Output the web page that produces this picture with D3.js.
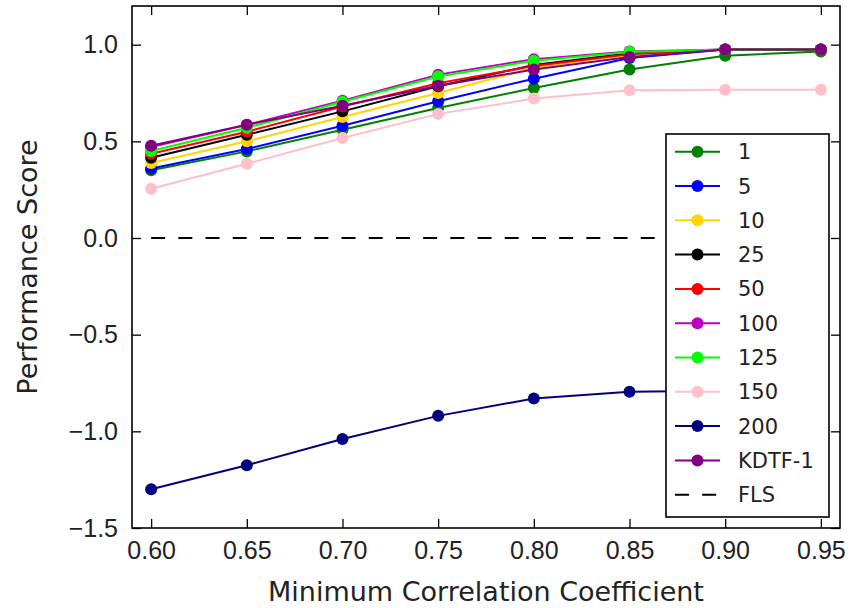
<!DOCTYPE html>
<html>
<head>
<meta charset="utf-8">
<script src="https://cdn.jsdelivr.net/npm/d3@7"></script>
<style>
  body { margin: 0; background: #fff; }
  svg { font-family: "DejaVu Sans", sans-serif; }
</style>
</head>
<body>
<div id="chart"></div>
<script>
// chart values
const xValues = [0.60, 0.65, 0.70, 0.75, 0.80, 0.85, 0.90, 0.95];
const seriesNames = ['1', '5', '10', '25', '50', '100', '125', '150', '200', 'KDTF-1'];
const seriesColors = ['#008000', '#0000ff', '#ffd700', '#000000', '#ff0000',
                      '#bf00bf', '#00ff00', '#ffc0cb', '#000080', '#800080'];
const s1     = [0.350, 0.448, 0.560, 0.672, 0.776, 0.871, 0.943, 0.965];
const s5     = [0.360, 0.460, 0.581, 0.707, 0.824, 0.931, 0.975, 0.975];
const s10    = [0.388, 0.500, 0.626, 0.750, 0.880, 0.950, 0.975, 0.975];
const s25    = [0.415, 0.534, 0.655, 0.785, 0.895, 0.955, 0.975, 0.975];
const s50    = [0.436, 0.550, 0.680, 0.800, 0.890, 0.950, 0.975, 0.975];
const s100   = [0.470, 0.585, 0.710, 0.845, 0.925, 0.965, 0.975, 0.975];
const s125   = [0.450, 0.570, 0.705, 0.835, 0.917, 0.962, 0.975, 0.975];
const s150   = [0.255, 0.384, 0.517, 0.642, 0.721, 0.764, 0.767, 0.767];
const s200   = [-1.300, -1.175, -1.040, -0.920, -0.830, -0.795, -0.790, -0.790];
const sKDTF  = [0.477, 0.586, 0.684, 0.788, 0.871, 0.936, 0.975, 0.975];
const flsValue = 0.0;
const xTicks = [0.60, 0.65, 0.70, 0.75, 0.80, 0.85, 0.90, 0.95];
const yTicks = [-1.5, -1.0, -0.5, 0.0, 0.5, 1.0];

const allSeries = [s1, s5, s10, s25, s50, s100, s125, s150, s200, sKDTF];

const [width, height] = [853, 608];
const margin = { top: 6, right: 13, bottom: 80, left: 132 };
const iw = width - margin.left - margin.right;
const ih = height - margin.top - margin.bottom;

const svg = d3.select('#chart')
    .append('svg')
    .attr('width', width)
    .attr('height', height);

const g = svg.append('g')
    .attr('transform', `translate(${margin.left},${margin.top})`);

const x = d3.scaleLinear().domain([0.59, 0.96]).range([0, iw]);
const y = d3.scaleLinear().domain([-1.5, 1.2]).range([ih, 0]);

// axes: ticks point inwards on all four sides
const tickLen = 9;
const styleAxis = (sel, size) => {
    sel.select('.domain').remove();
    sel.selectAll('line').attr('stroke', '#000').attr('stroke-width', 1.3);
    sel.selectAll('text').style('font-size', size).attr('fill', '#222');
};

g.append('g')
    .attr('transform', `translate(0,${ih})`)
    .call(d3.axisBottom(x).tickValues(xTicks).tickSize(-tickLen)
        .tickPadding(13.5).tickFormat(d3.format('.2f')))
    .call(styleAxis, '25px');

g.append('g')
    .call(d3.axisLeft(y).tickValues(yTicks).tickSize(-tickLen)
        .tickPadding(14).tickFormat(d3.format('.1f')))
    .call(styleAxis, '25px');

g.append('g')
    .call(d3.axisTop(x).tickValues(xTicks).tickSize(-tickLen).tickFormat(''))
    .call(styleAxis, '25px');

g.append('g')
    .attr('transform', `translate(${iw},0)`)
    .call(d3.axisRight(y).tickValues(yTicks).tickSize(-tickLen).tickFormat(''))
    .call(styleAxis, '25px');

// FLS baseline
g.append('line')
    .attr('x1', x(xValues[0]))
    .attr('x2', x(xValues[xValues.length - 1]))
    .attr('y1', y(flsValue))
    .attr('y2', y(flsValue))
    .attr('stroke', '#000')
    .attr('stroke-width', 2)
    .attr('stroke-dasharray', '14,13.2');

// series lines + markers
const line = d3.line()
    .x((d, i) => x(xValues[i]))
    .y((d) => y(d));

allSeries.forEach((vals, k) => {
    const c = seriesColors[k];
    g.append('path')
        .datum(vals)
        .attr('d', line)
        .attr('fill', 'none')
        .attr('stroke', c)
        .attr('stroke-width', 2);
    g.append('g')
        .selectAll('circle')
        .data(vals)
        .join('circle')
        .attr('cx', (d, i) => x(xValues[i]))
        .attr('cy', (d) => y(d))
        .attr('r', 6)
        .attr('fill', c);
});

// frame
g.append('rect')
    .attr('width', iw)
    .attr('height', ih)
    .attr('fill', 'none')
    .attr('stroke', '#000')
    .attr('stroke-width', 1.6);

// legend
const legend = svg.append('g').attr('transform', 'translate(666,134)');
legend.append('rect')
    .attr('width', 163)
    .attr('height', 383)
    .attr('fill', '#fff')
    .attr('stroke', '#000')
    .attr('stroke-width', 1.6);

const rowH = 34.3;
const names = seriesNames.concat(['FLS']);
names.forEach((name, i) => {
    const row = legend.append('g').attr('transform', `translate(0,${17.7 + i * rowH})`);
    if (i < seriesNames.length) {
        row.append('line')
            .attr('x1', 9).attr('x2', 54)
            .attr('stroke', seriesColors[i])
            .attr('stroke-width', 2);
        row.append('circle')
            .attr('cx', 31.5)
            .attr('r', 6)
            .attr('fill', seriesColors[i]);
    } else {
        row.append('line')
            .attr('x1', 9).attr('x2', 54)
            .attr('stroke', '#000')
            .attr('stroke-width', 2)
            .attr('stroke-dasharray', '14,13.2');
    }
    row.append('text')
        .attr('x', 72)
        .attr('dy', '0.36em')
        .attr('fill', '#222')
        .style('font-size', '21px')
        .text(name);
});

// axis labels
svg.append('text')
    .attr('x', margin.left + iw / 2)
    .attr('y', 601)
    .attr('text-anchor', 'middle')
    .attr('fill', '#222')
    .style('font-size', '27px')
    .text('Minimum Correlation Coefficient');

svg.append('text')
    .attr('transform', `translate(37,${margin.top + ih / 2}) rotate(-90)`)
    .attr('text-anchor', 'middle')
    .attr('fill', '#222')
    .style('font-size', '27px')
    .text('Performance Score');
</script>
</body>
</html>
